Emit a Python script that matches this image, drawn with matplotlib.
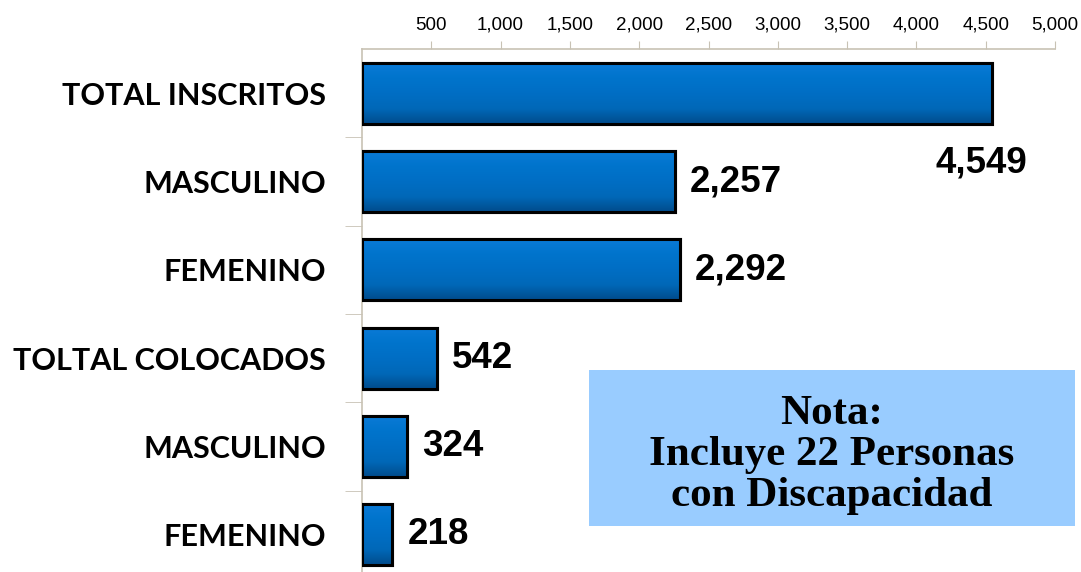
import numpy as np
import matplotlib.pyplot as plt
from matplotlib.colors import LinearSegmentedColormap
from matplotlib.ticker import FuncFormatter

categories = ['TOTAL INSCRITOS', 'MASCULINO', 'FEMENINO',
              'TOLTAL COLOCADOS', 'MASCULINO', 'FEMENINO']
values = [4549, 2257, 2292, 542, 324, 218]
value_labels = ['4,549', '2,257', '2,292', '542', '324', '218']
note_text = 'Nota:\nIncluye 22 Personas\ncon Discapacidad'

fig = plt.figure(figsize=(10.81, 5.72), dpi=100)
ax = fig.add_axes([362 / 1081, 0, (1055 - 362) / 1081, 1 - 49 / 572])

pos = np.arange(len(values))
bars = ax.barh(pos, values, height=0.69, color='#0074CC',
               edgecolor='black', linewidth=2.2, zorder=3)

# bevel-ish shading: vertical gradient clipped to each bar (darker at bottom)
bevel = LinearSegmentedColormap.from_list(
    'bev', ['#0a7ad6', '#0074CC', '#006ec4', '#0068b8', '#004c8c'])
grad = np.linspace(0, 1, 100).reshape(-1, 1)
for b in bars:
    x0, y0 = b.get_x(), b.get_y()
    w, h = b.get_width(), b.get_height()
    im = ax.imshow(grad, cmap=bevel, origin='lower',
                   extent=[x0, x0 + w, y0, y0 + h], aspect='auto',
                   zorder=3.5, interpolation='bilinear')
    im.set_clip_path(b)
    ax.add_patch(plt.Rectangle((x0, y0), w, h, fill=False,
                               edgecolor='black', linewidth=2.2, zorder=4))

ax.set_xlim(0, 5000)
ax.set_ylim(5.42, -0.5)

ax.xaxis.tick_top()
ax.set_xticks(np.arange(500, 5001, 500))
ax.xaxis.set_major_formatter(FuncFormatter(lambda v, p: f'{int(v):,}'))
ax.tick_params(axis='x', direction='out', length=6, color='#c8c2b4',
               labelsize=13.5, pad=5)
for t in ax.get_xticklabels():
    t.set_family('Liberation Sans')

ax.set_yticks(pos)
ax.set_yticklabels(categories, fontsize=22, fontweight='bold', family='Lato')
ax.set_yticks(np.arange(0.5, len(values) - 1, 1), minor=True)
ax.tick_params(axis='y', which='major', length=0, pad=26)
ax.tick_params(axis='y', which='minor', direction='out', length=12,
               color='#c8c2b4')

for s in ['right', 'bottom']:
    ax.spines[s].set_visible(False)
for s in ['top', 'left']:
    ax.spines[s].set_color('#c8c2b4')
    ax.spines[s].set_linewidth(1.2)

# value labels
for i, (v, lab) in enumerate(zip(values, value_labels)):
    if i == 0:
        ax.annotate(lab, (v, i), xytext=(-8, -50), textcoords='offset points',
                    ha='center', va='center', fontsize=26.5, fontweight='bold',
                    family='Liberation Sans')
    else:
        ax.annotate(lab, (v, i), xytext=(11, 0), textcoords='offset points',
                    ha='left', va='center', fontsize=26.5, fontweight='bold',
                    family='Liberation Sans')

# note box
fig.patches.append(plt.Rectangle((589 / 1081, 1 - 526 / 572), 486 / 1081,
                                 156 / 572, transform=fig.transFigure,
                                 facecolor='#99CCFF', edgecolor='none',
                                 zorder=1))
fig.text(832 / 1081, 1 - 455 / 572, note_text, ha='center', va='center',
         fontsize=31, fontweight='bold', family='Liberation Serif',
         linespacing=1.1)

fig.savefig('out.png', dpi=100)
